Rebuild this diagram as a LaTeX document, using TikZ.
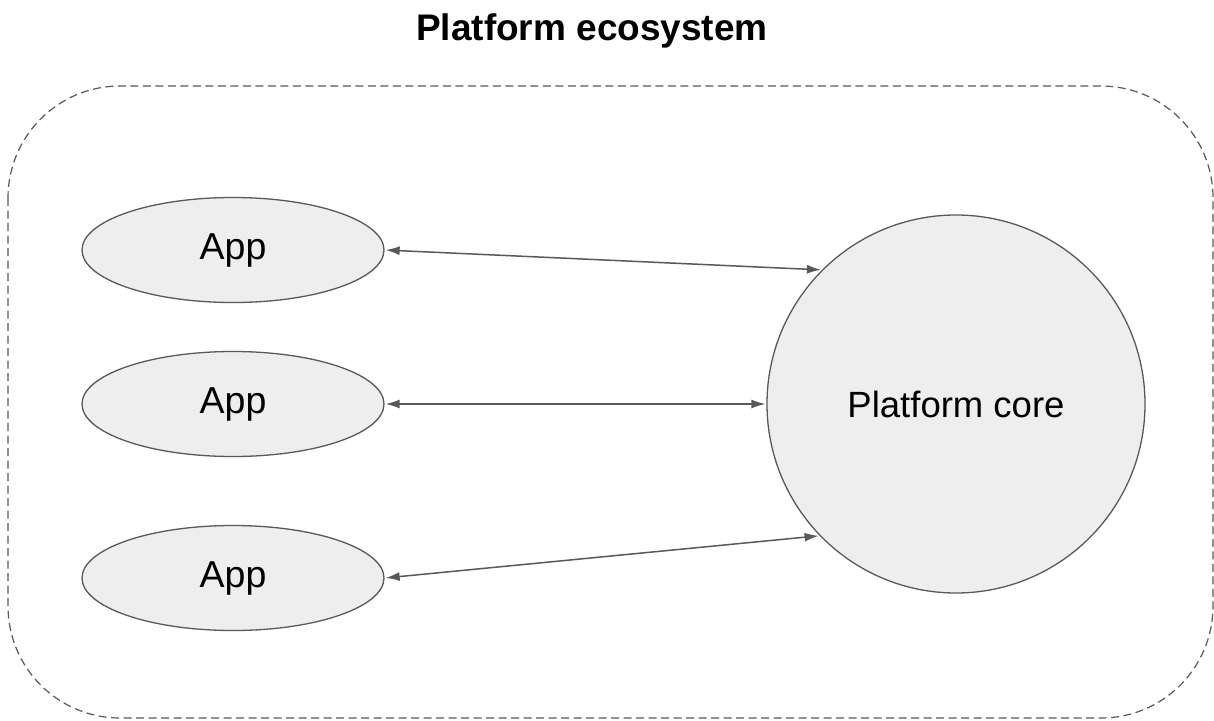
\documentclass[tikz,border=0pt]{standalone}
\usepackage{fontspec}
\setmainfont{Liberation Sans}
\usetikzlibrary{shapes.geometric,arrows.meta}
\definecolor{edge}{HTML}{595959}
\definecolor{fillg}{HTML}{EEEEEE}
\tikzset{
  appnode/.style={ellipse, draw=edge, fill=fillg, line width=1.3pt, minimum width=302pt, minimum height=105pt, inner sep=0pt, font=\fontsize{37.5}{42}\selectfont},
  corenode/.style={circle, draw=edge, fill=fillg, line width=1.3pt, minimum size=378pt, inner sep=0pt, font=\fontsize{36.5}{42}\selectfont},
  link/.style={draw=edge, line width=1.5pt, {Latex[length=14pt,width=9pt]}-{Latex[length=14pt,width=9pt]}, shorten <=1pt, shorten >=1pt},
  frame/.style={draw=edge, line width=1.2pt, dash pattern=on 8pt off 4.5pt, rounded corners=112pt},
  titletext/.style={font=\bfseries\fontsize{37}{42}\selectfont}
}
\begin{document}
\begin{tikzpicture}[x=1pt,y=-1pt]
\useasboundingbox (0,0) rectangle (1214,720);
\fill[white] (0,0) rectangle (1214,720);
\node[titletext] (title) at (592,31) {Platform ecosystem};
\draw[frame] (8,86) rectangle (1213,718);
\node[appnode] (app1) at (233,250) {App};
\node[appnode] (app2) at (233,404) {App};
\node[appnode] (app3) at (233,578) {App};
\node[corenode] (core) at (956,404) {Platform core};
\draw[link] (app1.east) -- (core.135);
\draw[link] (app2.east) -- (core.west);
\draw[link] (app3.east) -- (core.-136);
\end{tikzpicture}
\end{document}
